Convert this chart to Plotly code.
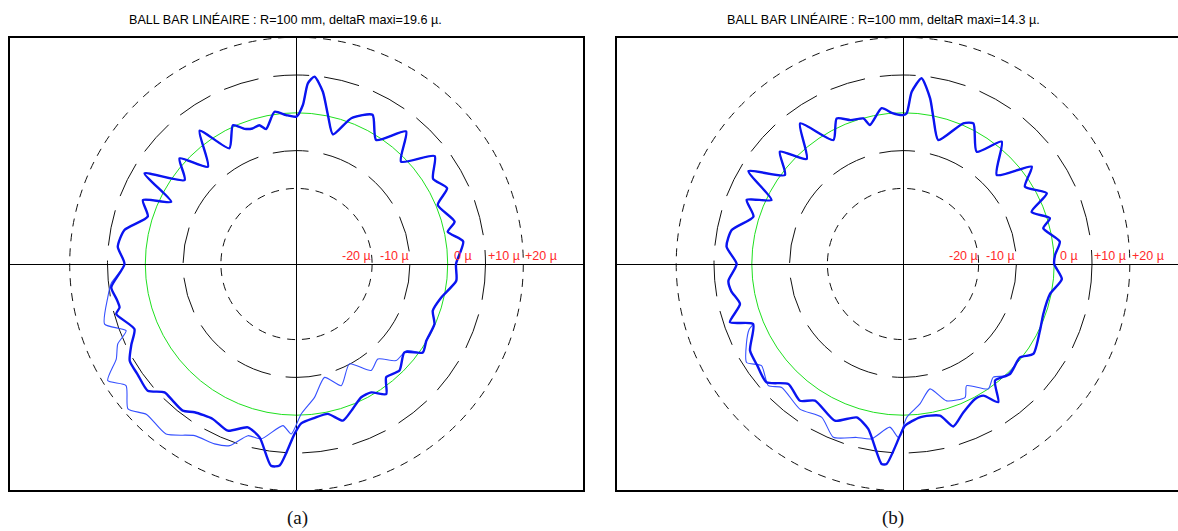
import numpy as np
import plotly.graph_objects as go

W, H = 1178, 531
R0 = 40.0  # plotting radius (µ units) of the nominal 0 µ circle

ring_devs = [-20, -10, 0, 10, 20]
ring_labels = ["-20 µ", "-10 µ", "0 µ", "+10 µ", "+20 µ"]

titles = ["BALL BAR LINÉAIRE : R=100 mm, deltaR maxi=19.6 µ.",
          "BALL BAR LINÉAIRE : R=100 mm, deltaR maxi=14.3 µ."]
captions = ["(a)", "(b)"]

# ---- panel (a): thick (main) trace, angle in degrees, radial deviation in µ
a_thick_ang = [0, 7.7, 12, 15, 22.7, 26.7, 32, 38, 44.4, 50.4, 57.3, 63, 69.4, 74.3, 78.1, 81.3,
               84.5, 86.4, 87.7, 90, 94, 98.2, 102.7, 105, 108, 111, 114.6, 120.1, 126, 132.3,
               137.9, 143.1, 149.2, 153.6, 157.4, 162.3, 168.8, 174.5, 180, 187.2, 191, 193.8,
               195.5, 201.9, 206, 210.1, 215, 220.4, 224.2, 228, 232.2, 235.5, 241.6, 247.6,
               253.4, 258, 262.8, 265.2, 269.3, 271.7, 276.7, 281.8, 286.5, 291, 295.9, 300.2,
               304.6, 308.4, 314, 320.7, 325, 329.4, 336.5, 341.1, 347, 354, 360]
a_thick_dev = [2.2, 4.5, 0.9, 3.3, 0.5, 4.6, 2.6, 6.4, -1.3, 5.5, -1.0, 4.3, 1.2, -4.4, 0.3, 6.1,
               9.8, 7.9, 2.1, -1.0, -0.5, 0.7, -3.4, -2.0, -2.3, -1.7, 0.4, -4.6, 3.6, -5.2,
               1.7, -3.0, 6.8, -3.0, 4.0, 1.3, 6.4, 7.5, 5.5, 9.4, 8.5, 8.2,
               9.5, 6.2, 8.6, 11.0, 11.2, 11.7, 8.7, 8.8, 9.1, 7.6, 6.6, 7.7,
               5.1, 6.9, 13.8, 13.5, 5.0, 2.2, 1.0, 0.5, 3.2, 1.2, -0.8, -0.7,
               1.8, -1.8, -0.8, -3.1, 0.8, -0.1, -0.2, -1.9, -0.7, 2.5, 2.2]
# panel (a): thin (second run) trace where it departs from the thick one
a_thin_ang = [186, 190, 197.4, 201.4, 204.1, 207.8, 211.7, 215.5, 220.7, 225.1, 232.5, 239.3,
              245.5, 249.8, 254.2, 258.6, 265.2, 268.2, 271.8, 277.7, 283.9, 290.2, 297.9,
              305, 310.6, 315.9, 321.7, 324.3]
a_thin_dev = [9.3, 10.7, 13.2, 8.4, 11.8, 13.9, 18.7, 15.4, 18.8, 16.2, 16.7, 12.8,
              12.3, 11.2, 7.2, 7.2, 2.9, 5.0, -0.3, -4.4, -9.1, -5.7, -10.1,
              -5.6, -6.9, -3.3, -3.0, 0.1]

# ---- panel (b)
b_thick_ang = [0, 3.4, 8.1, 14.3, 17.3, 22.1, 26.2, 32.4, 37.1, 43.5, 51.1, 56.7, 63.4, 66.8,
               74.1, 78.2, 80.7, 84.3, 87.1, 88.6, 90, 94, 97.8, 103.4, 105.2, 110, 114.5,
               119.3, 126.2, 132.5, 137.6, 143, 149, 154, 157.7, 162.4, 168.8, 174.4, 180,
               185.5, 189, 193.8, 198.6, 201.8, 209.5, 215, 220.9, 226.3, 233, 237.2, 246.5,
               253.2, 258.1, 263.9, 265.3, 269, 270.7, 276.3, 283.7, 287.2, 292.1, 298.1,
               301.4, 304.6, 308.3, 314.2, 321.4, 325.4, 334, 340.4, 348.5, 354.6, 360]
b_thick_dev = [0.0, 0.3, 1.9, -1.7, 0.7, -3.3, 2.4, -1.8, 2.7, -5.8, 1.6, -4.5, 1.6, 0.5,
               -5.9, -0.6, 4.4, 9.4, 5.6, -0.1, -0.6, 0.0, 1.6, -2.2, -0.1, 0.5, 2.3,
               -2.4, 6.1, -2.3, 4.1, -0.9, 7.7, -1.3, 4.7, 1.5, 6.2, 6.9, 4.0,
               6.4, 6.0, 4.4, 8.3, 2.7, 6.5, 7.0, 7.8, 3.9, 5.3, 3.0, 5.2,
               2.4, 4.6, 13.2, 13.1, 5.4, 2.8, 0.8, 1.3, 5.0, 2.4, 0.5,
               0.8, 4.4, -0.7, 0.6, -0.4, 1.9, 0.3, -0.6, -0.3, 2.2, 0.0]
b_thin_ang = [203, 207, 212.2, 215.7, 222.1, 225.5, 234.6, 242.1, 248.1, 255, 259.8, 265.4,
              268.5, 271.4, 276.9, 282.2, 287.7, 295, 297.6, 304.3, 308.6, 312.9, 319]
b_thin_dev = [4.2, 6.5, 8.9, 6.1, 8.0, 5.8, 7.1, 5.9, 9.4, 7.5, 7.0, 3.3,
              5.9, 0.6, -2.7, -6.2, -2.0, -1.1, -3.7, 0.0, -1.7, 0.3, -0.2]


def merge_thin(thick_ang, thick_dev, thin_ang, thin_dev):
    lo, hi = min(thin_ang), max(thin_ang)
    ang = [a for a in thick_ang if a < lo or a > hi] + list(thin_ang)
    dev = [d for a, d in zip(thick_ang, thick_dev) if a < lo or a > hi] + list(thin_dev)
    order = np.argsort(ang)
    return np.array(ang)[order], np.array(dev)[order]


def to_xy(ang, dev):
    t = np.radians(np.asarray(ang, float))
    r = R0 + np.asarray(dev, float)
    return r * np.cos(t), r * np.sin(t)


fig = go.Figure()

panels = [
    dict(thick=(a_thick_ang, a_thick_dev), thin=(a_thin_ang, a_thin_dev), xa="x", ya="y"),
    dict(thick=(b_thick_ang, b_thick_dev), thin=(b_thin_ang, b_thin_dev), xa="x2", ya="y2"),
]

THICK = "#0a14f0"
THIN = "#3550ff"

for p in panels:
    ta, td = merge_thin(*p["thick"], *p["thin"])
    x, y = to_xy(ta, td)
    fig.add_trace(go.Scatter(x=x, y=y, mode="lines", xaxis=p["xa"], yaxis=p["ya"],
                             line=dict(color=THIN, width=1.1, shape="spline", smoothing=0.6),
                             hoverinfo="skip", showlegend=False))
    x, y = to_xy(*p["thick"])
    fig.add_trace(go.Scatter(x=x, y=y, mode="lines", xaxis=p["xa"], yaxis=p["ya"],
                             line=dict(color=THICK, width=2.4, shape="spline", smoothing=0.6),
                             hoverinfo="skip", showlegend=False))

ring_style = {-20: ("#111111", "8px,7px"), -10: ("#111111", "36px,15px"),
              0: ("#1fe01f", "solid"), 10: ("#111111", "36px,15px"), 20: ("#111111", "8px,7px")}

shapes = []
annotations = []
for xa, ya in [("x", "y"), ("x2", "y2")]:
    for d in ring_devs:
        r = R0 + d
        col, dash = ring_style[d]
        shapes.append(dict(type="circle", xref=xa, yref=ya, x0=-r, x1=r, y0=-r, y1=r,
                           line=dict(color=col, width=1, dash=dash), layer="below"))
    for d, lab in zip(ring_devs, ring_labels):
        r = R0 + d
        if d < 0:
            anchor, shift = "right", 1
        elif d == 0:
            anchor, shift = "left", 4
        else:
            anchor, shift = "left", 0
        annotations.append(dict(x=r, y=0, xref=xa, yref=ya, text=lab, showarrow=False,
                                xanchor=anchor, yanchor="bottom", xshift=shift, yshift=-1,
                                font=dict(family="Arial, Liberation Sans", size=12.5,
                                          color="#ff2a2a")))

title_x = [285, 883]
cap_x = [297, 893]
for tx, t in zip(title_x, titles):
    annotations.append(dict(x=tx / W, y=1 - 19 / H, xref="paper", yref="paper", text=t,
                            showarrow=False, xanchor="center", yanchor="middle",
                            font=dict(family="Arial, Liberation Sans", size=12.6, color="#000")))
for cx, c in zip(cap_x, captions):
    annotations.append(dict(x=cx / W, y=1 - 518 / H, xref="paper", yref="paper", text=c,
                            showarrow=False, xanchor="center", yanchor="middle",
                            font=dict(family="Liberation Serif, Times New Roman, serif", size=19,
                                      color="#111")))

SCALE = 3.78  # px per µ
ax_common = dict(showgrid=False, showticklabels=False, ticks="", zeroline=True,
                 zerolinecolor="#000", zerolinewidth=1, linecolor="#000", linewidth=1.5,
                 showline=True, fixedrange=True)

ya_dom = [1 - 490 / H, 1 - 38 / H]
yhalf = (490 - 38) / 2 / SCALE

fig.update_layout(
    width=W, height=H, margin=dict(l=0, r=0, t=0, b=0),
    paper_bgcolor="white", plot_bgcolor="white", showlegend=False,
    xaxis=dict(domain=[10 / W, 583 / W], range=[-(573 / 2) / SCALE, (573 / 2) / SCALE],
               anchor="y", mirror=True, **ax_common),
    yaxis=dict(domain=ya_dom, range=[-yhalf, yhalf], anchor="x", mirror=True, **ax_common),
    xaxis2=dict(domain=[617 / W, 1.0], range=[-286 / SCALE, (W - 903) / SCALE],
                anchor="y2", mirror=True, **ax_common),
    yaxis2=dict(domain=ya_dom, range=[-yhalf, yhalf], anchor="x2", mirror=False, **ax_common),
    shapes=shapes, annotations=annotations,
)

fig.write_html("out.html", config={"displayModeBar": False},
               post_script="document.body.style.margin='0';document.body.style.overflow='hidden';")
